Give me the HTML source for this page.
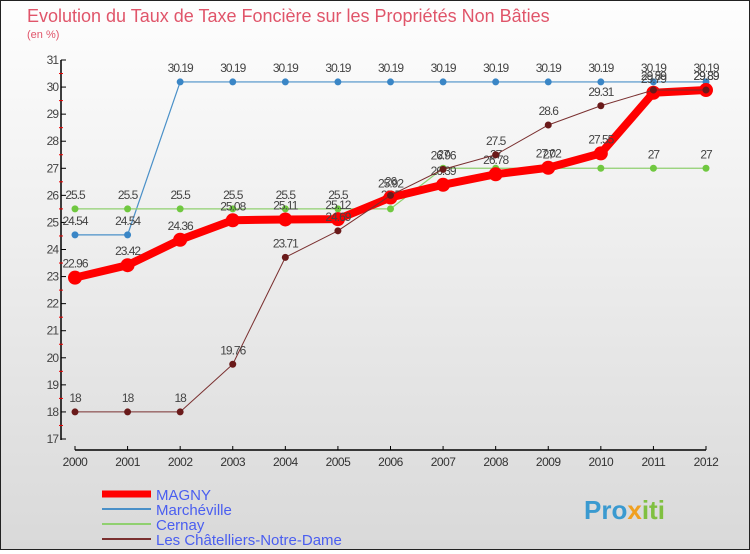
<!DOCTYPE html>
<html><head><meta charset="utf-8"><style>
body{margin:0}
#c{width:748px;height:548px;border:1px solid #222;background:linear-gradient(#fefefe,#d9d9d9);position:relative;font-family:"Liberation Sans",sans-serif}
</style></head><body>
<div id="c">
<svg id="s" width="748" height="548"></svg>
</div>
<script>
const years=[2000,2001,2002,2003,2004,2005,2006,2007,2008,2009,2010,2011,2012];
const magny=[22.96,23.42,24.36,25.08,25.11,25.12,25.92,26.39,26.78,27.02,27.55,29.79,29.89];
const marcheville=[24.54,24.54,30.19,30.19,30.19,30.19,30.19,30.19,30.19,30.19,30.19,30.19,30.19];
const cernay=[25.5,25.5,25.5,25.5,25.5,25.5,25.5,27,27,27,27,27,27];
const chatelliers=[18,18,18,19.76,23.71,24.69,26,26.96,27.5,28.6,29.31,29.89,29.89];
const yTicks=[17,18,19,20,21,22,23,24,25,26,27,28,29,30,31];
const s=document.getElementById('s');const NS='http://www.w3.org/2000/svg';
function X(i){return 74+i*(705-74)/12}
function Y(v){return 438-(v-17)*(438-59)/14}
function el(t,a,txt){const e=document.createElementNS(NS,t);for(const k in a)e.setAttribute(k,a[k]);if(txt!==undefined)e.textContent=txt;s.appendChild(e);return e}
let e;
e=el('text',{x:26,y:21,'font-size':18,fill:'#e0556a'},'Evolution du Taux de Taxe Foncière sur les Propriétés Non Bâties');

e=el('text',{x:26,y:37,'font-size':11,fill:'#e0556a'},'(en %)');

e=el('line',{x1:60,y1:59,x2:60,y2:439,stroke:'#000','stroke-width':1.5});

e=el('line',{x1:74,y1:449,x2:705,y2:449,stroke:'#000','stroke-width':1.5});

yTicks.forEach((v,i)=>{
 el('line',{x1:60,y1:Y(v),x2:65,y2:Y(v),stroke:'#000'});
 if(i<yTicks.length-1)el('line',{x1:58,y1:Y(v+0.5),x2:62,y2:Y(v+0.5),stroke:'#e00'});
 e=el('text',{x:57,y:Y(v)+4,'font-size':12,fill:'#444','text-anchor':'end','letter-spacing':'-1'},v);
 
});
years.forEach((y,i)=>{
 el('line',{x1:X(i),y1:445,x2:X(i),y2:449,stroke:'#000'});
 e=el('text',{x:X(i),y:465,'font-size':12,fill:'#333','text-anchor':'middle','letter-spacing':'-0.5'},y);
 
});
function series(d,col,w,r,dot,name){
 e=el('polyline',{points:d.map((v,i)=>X(i)+','+Y(v)).join(' '),fill:'none',stroke:col,'stroke-width':w,'stroke-linejoin':'round'});
 
 d.forEach((v,i)=>{
  e=el('circle',{cx:X(i),cy:Y(v),r:r,fill:dot});
  
  e=el('text',{x:X(i),y:Y(v)-10,'font-size':12,fill:'#444','text-anchor':'middle','letter-spacing':'-1'},v);
  
 });
}
series(marcheville,'#4a90c8',1.2,3.5,'#3a86c6','marcheville');
series(cernay,'#90d070',1.2,3.5,'#70c840','cernay');
series(magny,'#f00',8,7,'#f00','magny');
series(chatelliers,'#7a3030',1,3.5,'#6a1a1a','chatelliers');
const leg=[['MAGNY','#f00',7],['Marchéville','#4a90c8',2],['Cernay','#90d070',2],['Les Châtelliers-Notre-Dame','#7a3030',2]];
leg.forEach((l,i)=>{
 const y=493+i*15;
 e=el('line',{x1:101,y1:y,x2:150,y2:y,stroke:l[1],'stroke-width':l[2]});
 
 e=el('text',{x:155,y:y+6,'font-size':15,fill:'#4a5ef0'},l[0]);
 
});
e=el('text',{x:583,y:518,'font-size':26,'font-weight':'bold',fill:'#3a9ad0'},'');

e.innerHTML='<tspan>Pro</tspan><tspan fill="#f0a020">x</tspan><tspan fill="#80c040">iti</tspan>';
</script>
</body></html>
